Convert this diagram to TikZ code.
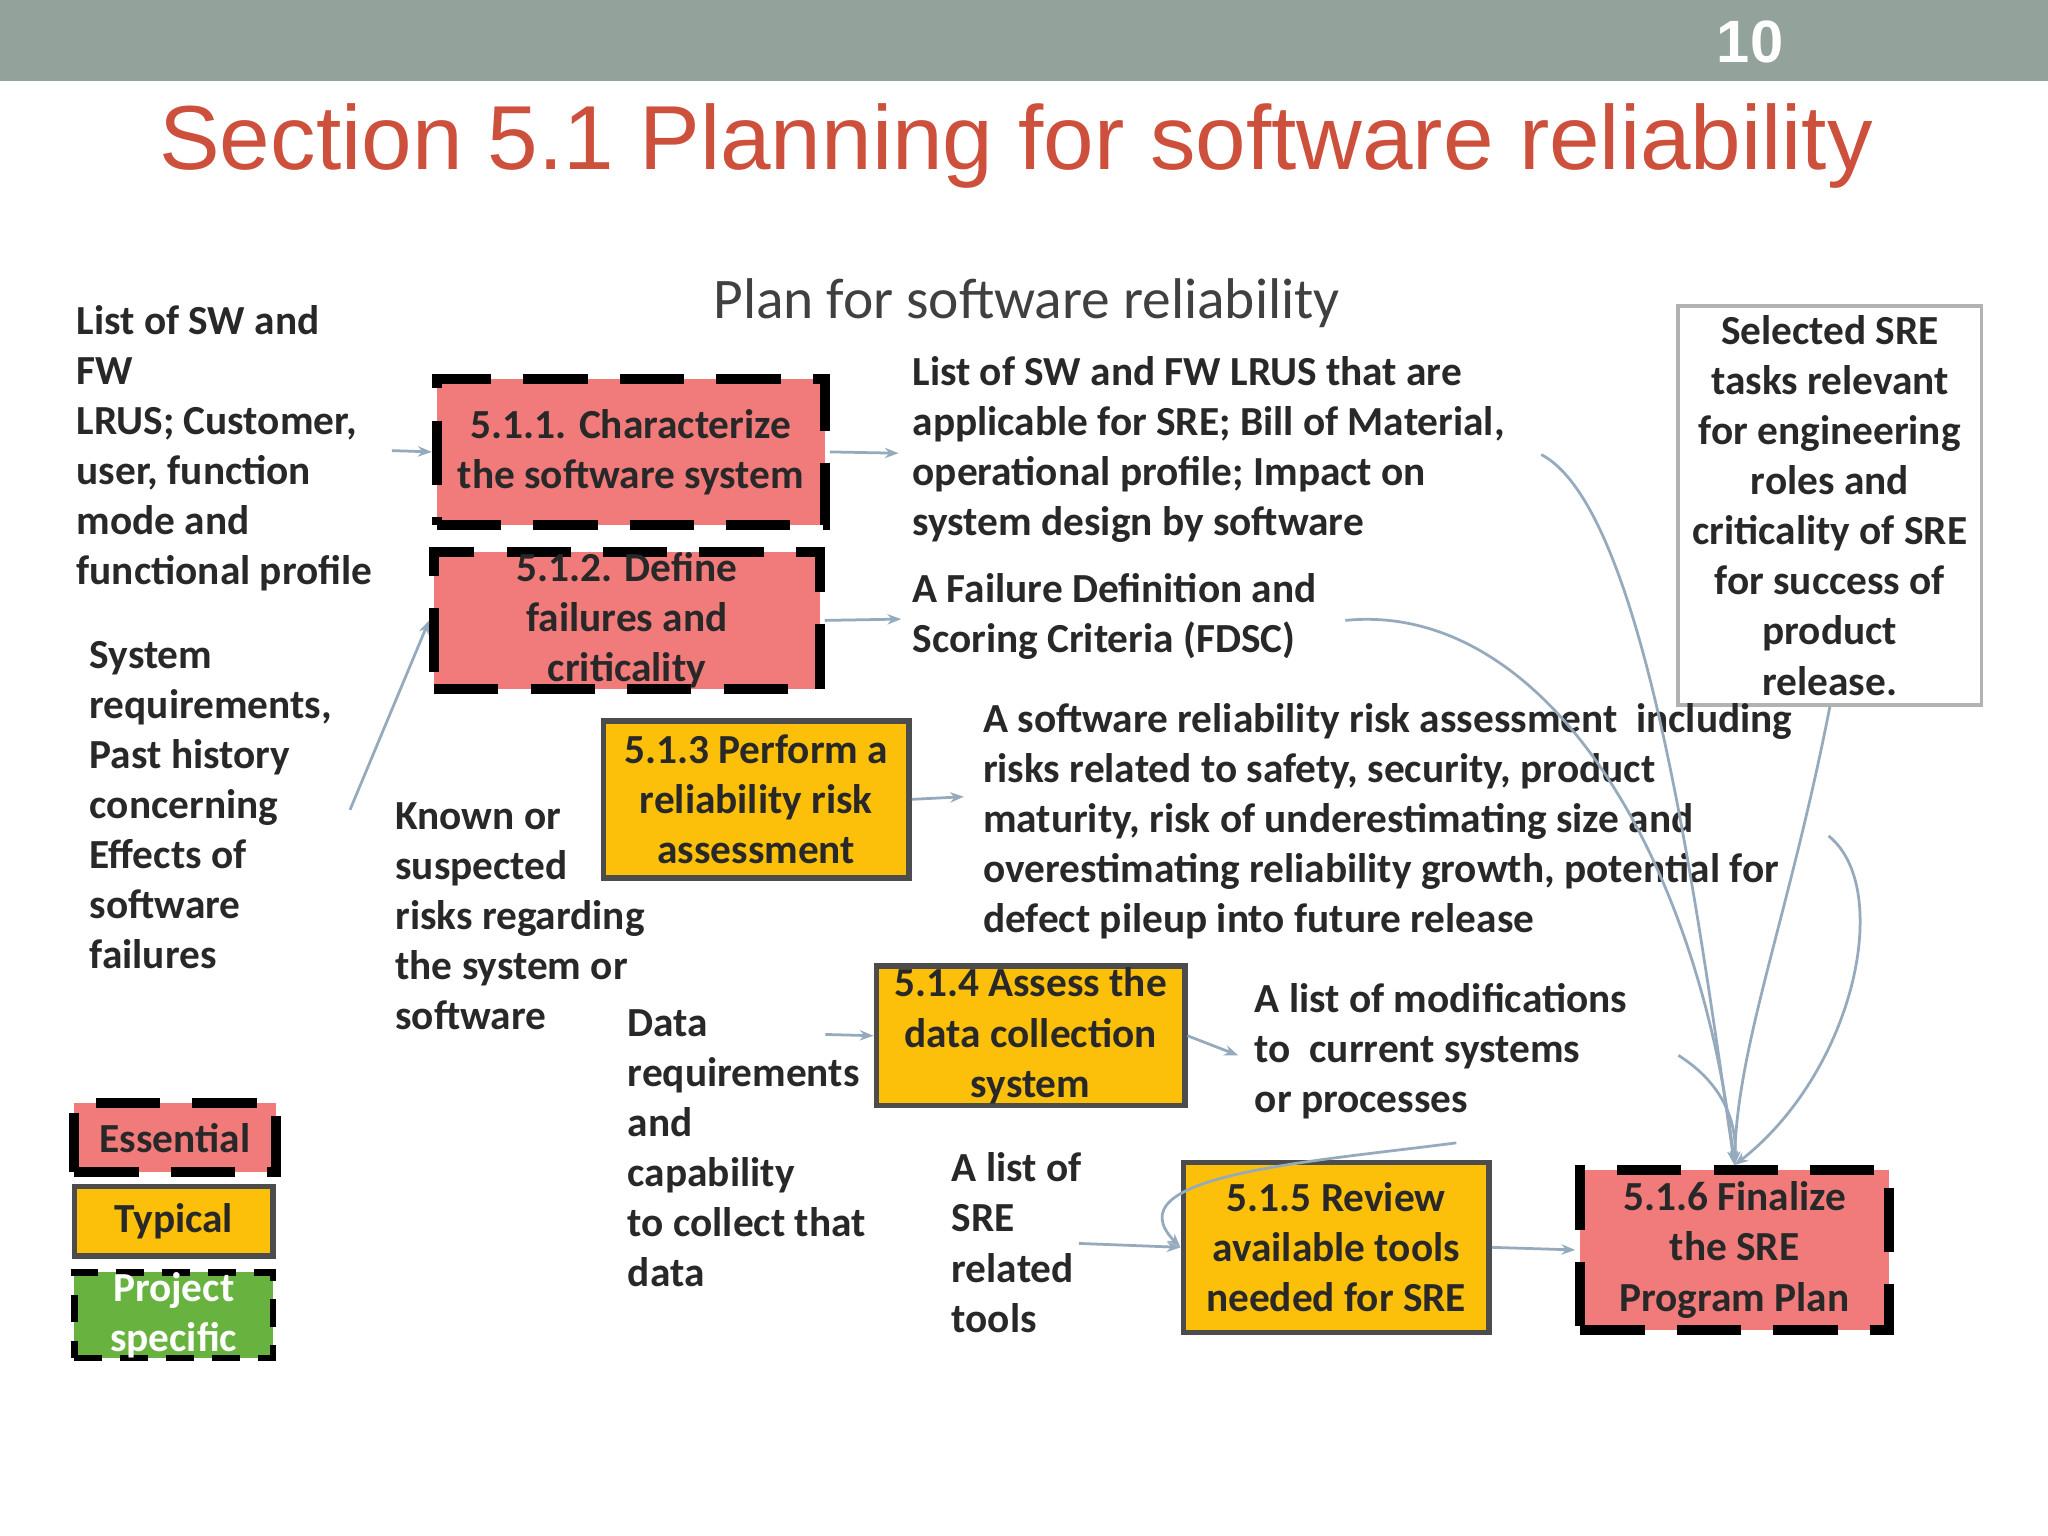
\documentclass[tikz,border=0pt]{standalone}
\usepackage{fontspec}
\setmainfont{Carlito}
\newfontfamily\arialf{Liberation Sans}
\usetikzlibrary{arrows.meta}
\definecolor{band}{RGB}{147,163,155}
\definecolor{titlered}{RGB}{205,80,60}
\definecolor{pinkf}{RGB}{241,122,122}
\definecolor{yellowf}{RGB}{253,192,10}
\definecolor{greenf}{RGB}{104,178,64}
\definecolor{txt}{RGB}{40,40,40}
\definecolor{conn}{RGB}{150,170,190}
\tikzset{
  x=0.01cm,y=-0.01cm,
  every node/.style={font=\bfseries\fontsize{9}{10.9}\selectfont, text=txt, inner sep=0pt},
  lbl/.style={align=left, anchor=north west},
  ess/.style={draw=black, line width=2.2pt, dash pattern=on 14pt off 7pt, fill=pinkf, align=center},
  typ/.style={draw=black!70, line width=1.2pt, fill=yellowf, align=center},
  proj/.style={draw=black, line width=1.5pt, dash pattern=on 6pt off 4pt, fill=greenf, align=center},
  arr/.style={draw=conn, line width=0.6pt, -{Stealth[length=3pt]}},
}
\begin{document}
\begin{tikzpicture}
\useasboundingbox (0,0) rectangle (1568,1176);
\fill[white] (0,0) rectangle (1568,1176);
\fill[band] (0,0) rectangle (1568,62);
\node[text=white, font=\arialf\bfseries\fontsize{13}{16}\selectfont] (pg) at (1340,32) {10};
\node[text=titlered, font=\arialf\fontsize{19.8}{24}\selectfont] (title) at (778,112) {Section 5.1 Planning for software reliability};
\node[font=\fontsize{12.5}{15}\selectfont, text=black!75] (plan) at (786,232) {Plan for software reliability};

% boxes
\node[ess, minimum width=2.97cm, minimum height=1.12cm] (b1) at (483,346) {5.1.1. Characterize\\the software system};
\node[ess, minimum width=2.95cm, minimum height=1.05cm] (b2) at (480,475) {5.1.2. Define\\failures and\\criticality};
\node[typ, minimum width=2.34cm, minimum height=1.2cm] (b3) at (579,612) {5.1.3 Perform a\\reliability risk\\assessment};
\node[typ, minimum width=2.36cm, minimum height=1.07cm] (b4) at (789,793) {5.1.4 Assess the\\data collection\\system};
\node[typ, minimum width=2.34cm, minimum height=1.3cm] (b5) at (1023,955) {5.1.5 Review\\available tools\\needed for SRE};
\node[ess, minimum width=2.36cm, minimum height=1.22cm] (b6) at (1328,957) {5.1.6 Finalize\\the SRE\\Program Plan};
\node[draw=black!30, line width=0.8pt, fill=white, minimum width=2.32cm, minimum height=3.05cm, align=center] (sel) at (1401,387) {Selected SRE\\tasks relevant\\for engineering\\roles and\\criticality of SRE\\for success of\\product\\release.};

% legend
\node[ess, minimum width=1.54cm, minimum height=0.53cm] (le) at (134,871) {Essential};
\node[typ, minimum width=1.52cm, minimum height=0.53cm] (lt) at (133,935) {Typical};
\node[proj, minimum width=1.52cm, minimum height=0.65cm, text=white] (lp) at (133,1007) {Project\\specific};

% texts
\node[lbl] (t1) at (58,233) {List of SW and\\FW\\LRUS; Customer,\\user, function\\mode and\\functional profile};
\node[lbl] (t2) at (68,490) {System\\requirements,\\Past history\\concerning\\Effects of\\software\\failures};
\node[lbl] (t3) at (698,272) {List of SW and FW LRUS that are\\applicable for SRE; Bill of Material,\\operational profile; Impact on\\system design by software};
\node[lbl] (t4) at (698,438) {A Failure Definition and\\Scoring Criteria (FDSC)};
\node[lbl] (t5) at (752,538) {A software reliability risk assessment\ \ including\\risks related to safety, security, product\\maturity, risk of underestimating size and\\overestimating reliability growth, potential for\\defect pileup into future release};
\node[lbl] (t6) at (302,614) {Known or\\suspected\\risks regarding\\the system or\\software};
\node[lbl] (t7) at (480,772) {Data\\requirements\\and\\capability\\to collect that\\data};
\node[lbl] (t8) at (960,752) {A list of modifications\\to\ \ current systems\\or processes};
\node[lbl] (t9) at (728,882) {A list of\\SRE\\related\\tools};

% connectors
\coordinate (c1) at (300,345);
\draw[arr] (c1) -- (b1.west);
\coordinate (c2) at (688,347);
\draw[arr] (b1.east) -- (c2);
\coordinate (c3) at (690,474);
\draw[arr] (b2.east) -- (c3);
\coordinate (c4) at (268,620);
\draw[arr] (c4) -- (b2.west);
\coordinate (c5) at (738,610);
\draw[arr] (b3.east) -- (c5);
\coordinate (c6) at (632,792);
\draw[arr] (c6) -- (b4.west);
\coordinate (c7) at (948,808);
\draw[arr] (b4.east) -- (c7);
\coordinate (c8) at (826,952);
\draw[arr] (c8) -- (b5.west);
\draw[arr] (b5.east) -- (b6.west);
\coordinate (d1) at (1180,348);
\draw[arr] (d1) .. controls (1260,390) and (1300,700) .. (b6.north);
\coordinate (d2) at (1030,475);
\draw[arr] (d2) .. controls (1180,460) and (1300,650) .. (b6.north);
\draw[arr] (sel.south) .. controls (1370,700) and (1330,800) .. (b6.north);
\coordinate (d3) at (1400,640);
\draw[arr] (d3) .. controls (1450,680) and (1420,820) .. (b6.north);
\coordinate (d4) at (1285,808);
\draw[arr] (d4) .. controls (1320,830) and (1330,860) .. (b6.north);
\coordinate (d5) at (1115,875);
\draw[arr] (d5) .. controls (1000,890) and (850,900) .. (b5.west);
\end{tikzpicture}
\end{document}
